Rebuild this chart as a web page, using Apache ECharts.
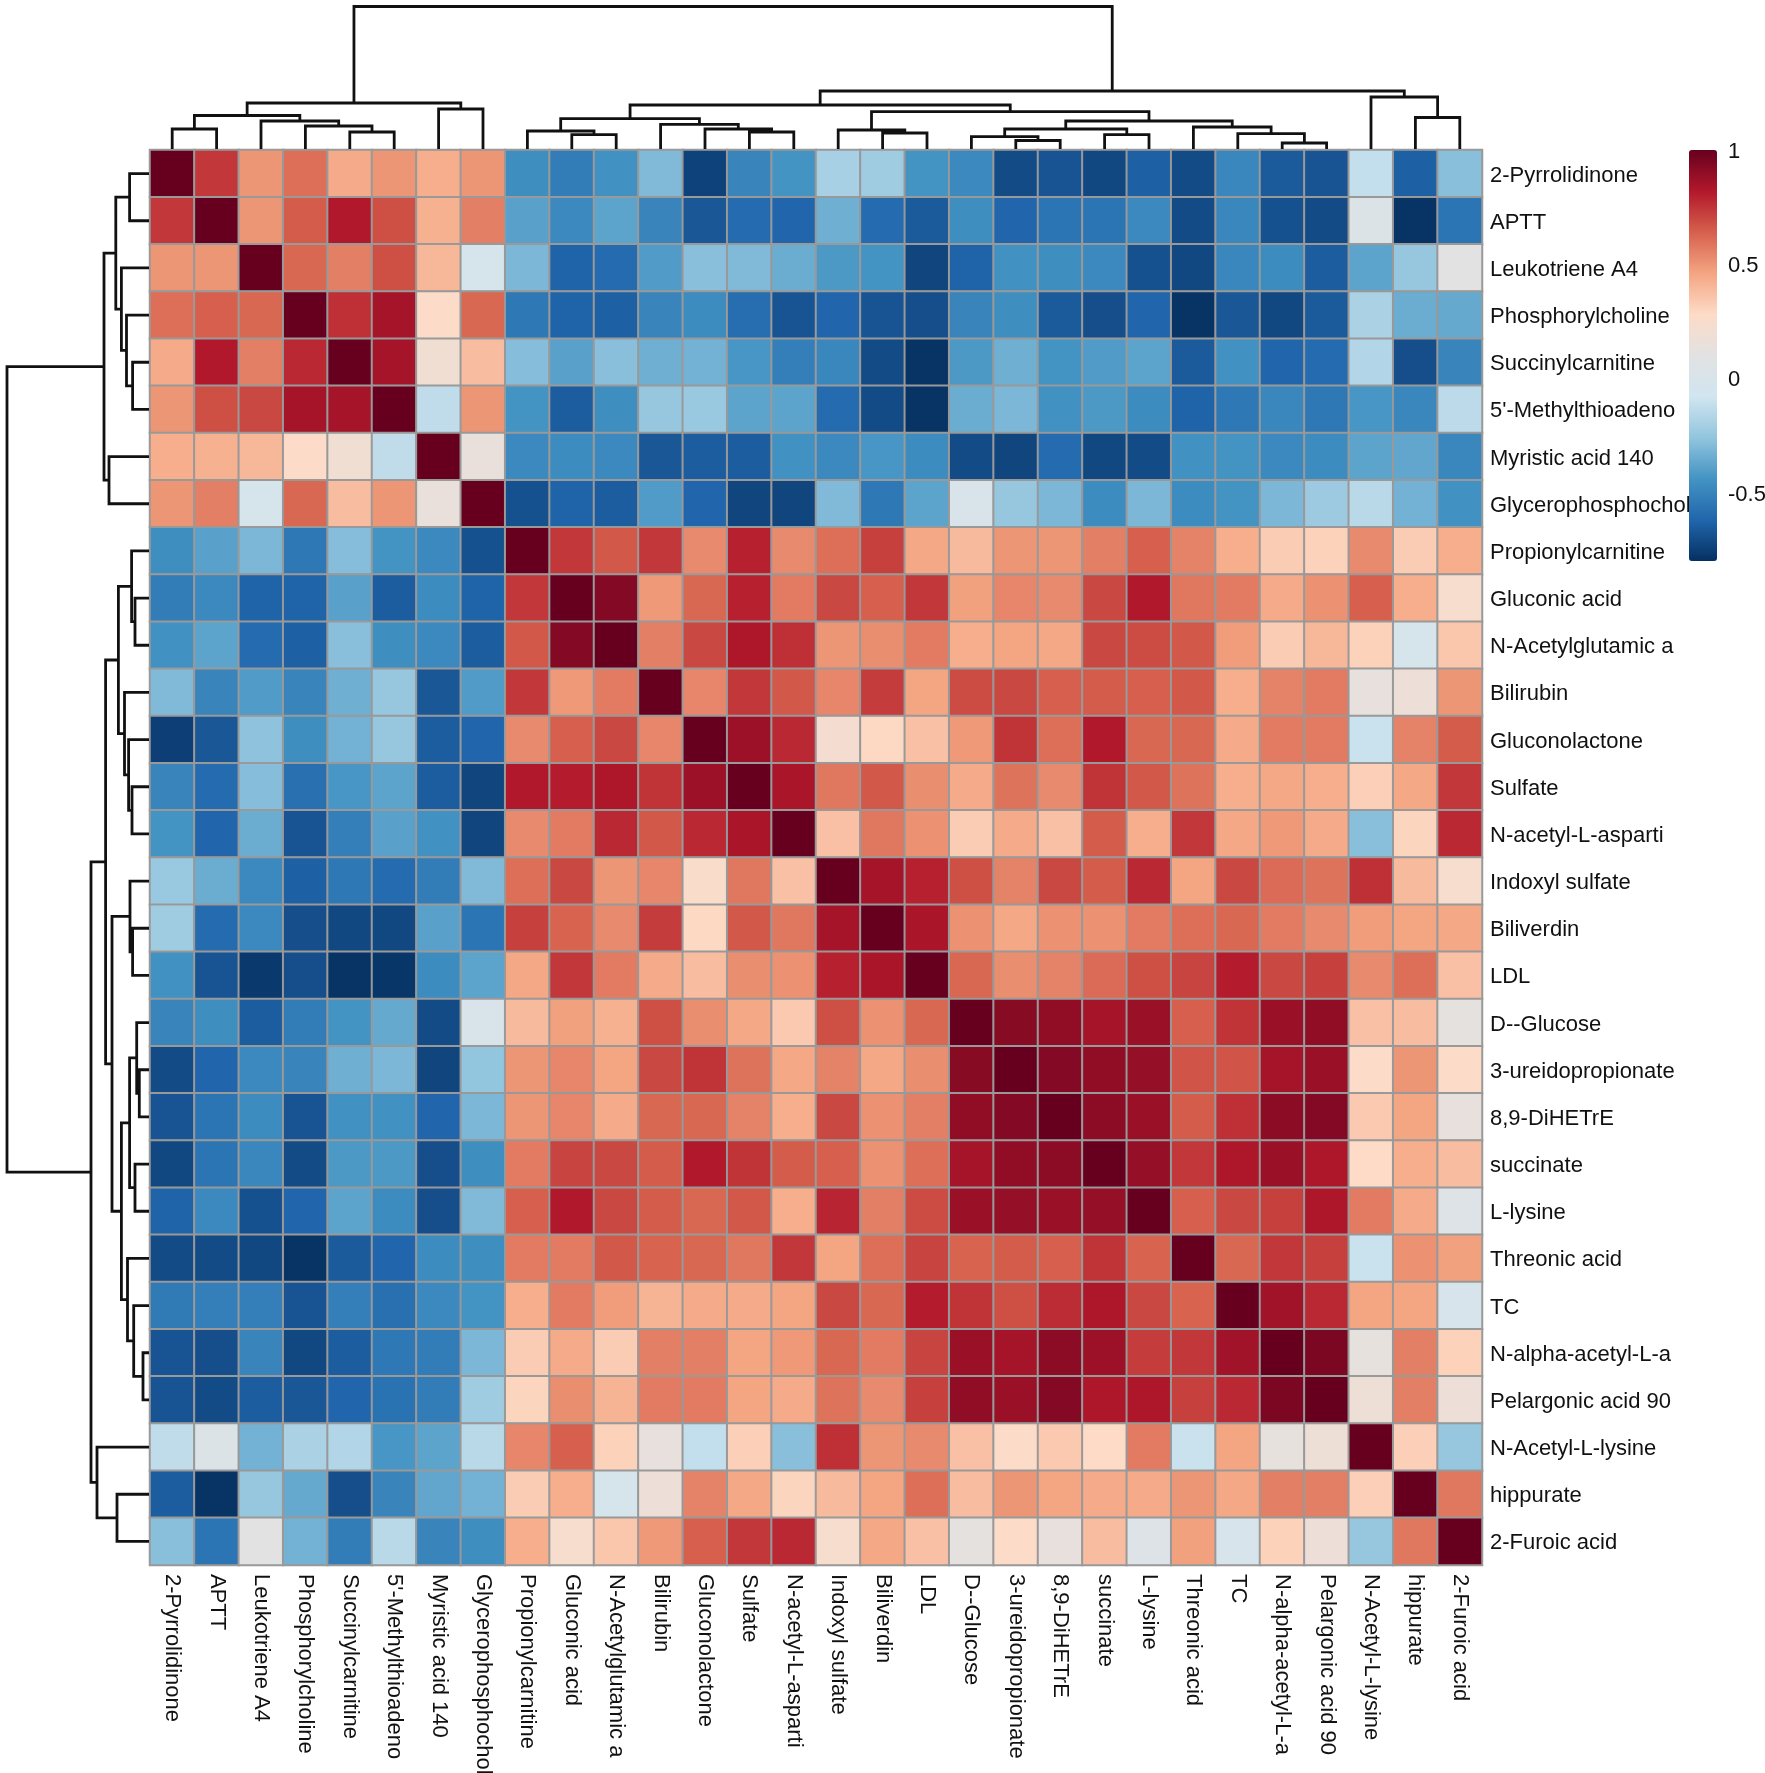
<!DOCTYPE html>
<html>
<head>
<meta charset="utf-8">
<title>Metabolite correlation heatmap</title>
<script src="https://cdn.jsdelivr.net/npm/echarts@6/dist/echarts.min.js"></script>
<style>
  html, body { margin: 0; padding: 0; background: #fff; }
  #main { width: 1765px; height: 1773px; }
</style>
</head>
<body>
<div id="main"></div>
<script>
// row and column order is the same, as it comes out of the clustering
const names = ['2-Pyrrolidinone', 'APTT', 'Leukotriene A4', 'Phosphorylcholine', 'Succinylcarnitine',
  "5'-Methylthioadeno", 'Myristic acid 140', 'Glycerophosphochol', 'Propionylcarnitine', 'Gluconic acid',
  'N-Acetylglutamic a', 'Bilirubin', 'Gluconolactone', 'Sulfate', 'N-acetyl-L-asparti',
  'Indoxyl sulfate', 'Biliverdin', 'LDL', 'D--Glucose', '3-ureidopropionate',
  '8,9-DiHETrE', 'succinate', 'L-lysine', 'Threonic acid', 'TC',
  'N-alpha-acetyl-L-a', 'Pelargonic acid 90', 'N-Acetyl-L-lysine', 'hippurate', '2-Furoic acid'];

// correlation values, top row first
const corr = [
  [1,.74,.5,.6,.44,.5,.43,.5,-.46,-.53,-.45,-.3,-.74,-.5,-.44,-.2,-.22,-.44,-.48,-.71,-.68,-.72,-.64,-.71,-.49,-.66,-.68,-.12,-.64,-.28],
  [.74,1,.5,.65,.82,.68,.42,.56,-.39,-.48,-.38,-.5,-.67,-.6,-.62,-.34,-.6,-.66,-.46,-.62,-.56,-.56,-.48,-.71,-.49,-.69,-.71,.03,-.79,-.56],
  [.5,.5,1,.62,.56,.68,.4,-.03,-.31,-.63,-.6,-.41,-.28,-.3,-.35,-.42,-.44,-.73,-.63,-.45,-.46,-.48,-.69,-.72,-.49,-.47,-.65,-.38,-.25,.1],
  [.6,.64,.62,1,.76,.85,.27,.62,-.55,-.63,-.64,-.5,-.47,-.59,-.68,-.62,-.68,-.7,-.5,-.46,-.66,-.7,-.62,-.79,-.67,-.72,-.66,-.19,-.35,-.36],
  [.44,.82,.56,.78,1,.85,.2,.38,-.29,-.39,-.28,-.34,-.33,-.43,-.52,-.49,-.71,-.79,-.42,-.34,-.44,-.41,-.38,-.66,-.45,-.62,-.6,-.17,-.7,-.5],
  [.5,.68,.7,.85,.85,1,-.13,.5,-.44,-.65,-.46,-.25,-.24,-.38,-.38,-.6,-.71,-.79,-.35,-.31,-.45,-.42,-.47,-.63,-.55,-.49,-.55,-.43,-.49,-.14],
  [.43,.42,.4,.27,.2,-.13,1,.15,-.48,-.47,-.48,-.67,-.65,-.65,-.45,-.48,-.43,-.47,-.71,-.73,-.6,-.72,-.71,-.45,-.44,-.48,-.47,-.38,-.37,-.49],
  [.5,.56,-.03,.62,.38,.5,.15,1,-.69,-.63,-.65,-.41,-.62,-.73,-.73,-.3,-.55,-.38,0,-.25,-.31,-.47,-.31,-.47,-.44,-.31,-.23,-.15,-.33,-.45],
  [-.46,-.39,-.31,-.55,-.29,-.44,-.48,-.69,1,.74,.66,.74,.53,.8,.53,.6,.72,.45,.39,.5,.5,.56,.64,.55,.43,.33,.31,.53,.33,.43],
  [-.53,-.48,-.63,-.63,-.39,-.65,-.47,-.63,.74,1,.93,.49,.62,.8,.57,.7,.64,.74,.47,.54,.53,.7,.82,.58,.57,.44,.51,.64,.43,.24],
  [-.45,-.38,-.6,-.64,-.28,-.46,-.48,-.65,.66,.93,1,.56,.7,.83,.76,.5,.52,.57,.43,.46,.45,.7,.69,.66,.48,.33,.4,.31,-.03,.35],
  [-.3,-.5,-.41,-.5,-.34,-.25,-.67,-.41,.74,.49,.57,1,.54,.74,.66,.54,.73,.46,.69,.7,.64,.65,.64,.66,.43,.55,.57,.14,.17,.5],
  [-.75,-.67,-.27,-.46,-.33,-.25,-.65,-.62,.53,.64,.7,.54,1,.87,.78,.22,.29,.37,.49,.75,.6,.82,.62,.62,.44,.57,.57,-.1,.55,.65],
  [-.5,-.6,-.29,-.58,-.43,-.38,-.65,-.73,.82,.81,.83,.75,.87,1,.84,.58,.66,.52,.44,.59,.53,.75,.66,.59,.43,.45,.43,.32,.45,.74],
  [-.44,-.62,-.35,-.68,-.52,-.39,-.45,-.73,.53,.57,.78,.66,.78,.84,1,.37,.58,.51,.33,.44,.37,.65,.43,.74,.45,.49,.44,-.28,.3,.78],
  [-.24,-.35,-.48,-.64,-.55,-.6,-.53,-.3,.6,.7,.5,.54,.26,.58,.37,1,.85,.8,.68,.55,.7,.65,.78,.46,.7,.61,.59,.76,.39,.24],
  [-.22,-.6,-.48,-.7,-.72,-.72,-.39,-.56,.72,.63,.53,.73,.29,.66,.58,.85,1,.84,.51,.45,.51,.51,.57,.6,.62,.57,.53,.48,.46,.45],
  [-.45,-.68,-.77,-.7,-.79,-.78,-.47,-.38,.45,.74,.57,.44,.38,.52,.51,.8,.84,1,.62,.52,.55,.61,.68,.71,.81,.7,.72,.53,.6,.37],
  [-.5,-.46,-.65,-.53,-.44,-.36,-.71,0,.39,.47,.42,.68,.52,.45,.34,.68,.51,.62,1,.92,.9,.85,.88,.64,.75,.88,.9,.37,.38,.12],
  [-.71,-.62,-.48,-.5,-.34,-.31,-.73,-.26,.5,.54,.46,.7,.75,.59,.45,.55,.45,.52,.92,1,.93,.9,.89,.67,.67,.85,.88,.27,.5,.27],
  [-.68,-.56,-.47,-.68,-.45,-.45,-.62,-.31,.5,.54,.44,.62,.62,.55,.43,.7,.51,.56,.9,.93,1,.91,.88,.65,.76,.91,.93,.34,.46,.14],
  [-.72,-.56,-.49,-.71,-.42,-.42,-.7,-.46,.57,.71,.7,.65,.82,.75,.65,.64,.51,.6,.85,.9,.91,1,.89,.74,.83,.88,.83,.28,.43,.38],
  [-.63,-.48,-.69,-.62,-.38,-.47,-.7,-.3,.64,.82,.7,.65,.62,.66,.43,.79,.56,.69,.88,.89,.88,.89,1,.64,.7,.72,.83,.57,.44,.05],
  [-.71,-.71,-.72,-.79,-.66,-.62,-.47,-.46,.57,.57,.66,.63,.62,.58,.74,.46,.6,.71,.63,.65,.64,.75,.63,1,.62,.74,.72,-.1,.51,.47],
  [-.54,-.52,-.52,-.68,-.52,-.58,-.48,-.44,.43,.57,.48,.41,.44,.44,.46,.7,.62,.81,.75,.68,.77,.83,.7,.63,1,.86,.78,.46,.46,-.02],
  [-.68,-.7,-.5,-.72,-.65,-.55,-.53,-.31,.33,.44,.33,.56,.56,.46,.49,.62,.57,.71,.88,.85,.91,.87,.73,.74,.86,1,.95,.13,.56,.31],
  [-.68,-.71,-.65,-.67,-.62,-.57,-.53,-.22,.3,.52,.41,.57,.57,.46,.44,.59,.53,.72,.9,.88,.93,.83,.83,.72,.78,.95,1,.18,.56,.17],
  [-.13,.03,-.33,-.19,-.17,-.43,-.38,-.15,.54,.64,.31,.14,-.12,.32,-.28,.76,.5,.53,.37,.27,.34,.28,.57,-.1,.46,.13,.18,1,.32,-.25],
  [-.65,-.79,-.25,-.36,-.7,-.5,-.37,-.33,.33,.43,-.03,.17,.55,.45,.3,.39,.46,.6,.38,.5,.46,.44,.44,.5,.45,.56,.56,.32,1,.58],
  [-.28,-.56,.1,-.33,-.53,-.15,-.5,-.46,.43,.24,.35,.49,.64,.74,.78,.24,.45,.37,.12,.27,.14,.38,.05,.47,-.02,.31,.17,-.25,.58,1]
];

// hclust style merges: [a, b, height], a/b >= 0 is a leaf, a/b < 0 is merge number -a-1
const colMerges = [
  [0, 1, 20], [4, 5, 17], [3, -2, 23], [2, -3, 28], [-1, -4, 33.5], [6, 7, 40], [-5, -6, 46],
  [9, 10, 14.3], [8, -8, 18], [13, 14, 17], [12, -10, 20], [11, -11, 24.6], [-9, -12, 30.4],
  [16, 17, 16], [15, -14, 19], [19, 20, 8.5], [18, -16, 12.4], [21, 22, 14.3], [-17, -18, 20],
  [25, 26, 6], [24, -20, 15.4], [23, -21, 22], [-19, -22, 28], [-15, -23, 37.3], [-13, -24, 44],
  [28, 29, 31.5], [27, -26, 52], [-25, -27, 58], [-7, -28, 142.5]
];
const rowMerges = [
  [0, 1, 19.4], [4, 5, 16.4], [3, -2, 22.5], [2, -3, 27.6], [-1, -4, 33.2], [6, 7, 40], [-5, -6, 45],
  [9, 10, 14], [8, -8, 17.4], [13, 14, 17], [12, -10, 20.4], [11, -11, 24.5], [-9, -12, 30.6],
  [16, 17, 16.4], [15, -14, 19], [19, 20, 9.7], [18, -16, 12.3], [21, 22, 14], [-17, -18, 19.4],
  [25, 26, 6], [24, -20, 15.3], [23, -21, 21.5], [-19, -22, 27.6], [-15, -23, 37], [-13, -24, 43.4],
  [28, 29, 32], [27, -26, 52], [-25, -27, 58], [-7, -28, 142]
];

const barTicks = [-0.5, 0, 0.5, 1];
const palette = ['#053061', '#2166AC', '#4393C3', '#92C5DE', '#D1E5F0', '#E2E2E2',
  '#FDDBC7', '#F4A582', '#D6604D', '#B2182B', '#67001F'];

let cells = [];
corr.forEach((row, r) => row.forEach((v, c) => cells.push([c, r, v])));

// turns merges into U shaped paths, NaN points break the line between them
function treePath(merges, flip) {
  let nodes = [];
  let path = [];
  const get = id => id >= 0 ? {pos: id + 0.5, h: 0} : nodes[-id - 1];
  const pt = (pos, h) => flip ? [h, pos] : [pos, h];
  merges.forEach(m => {
    const a = get(m[0]);
    const b = get(m[1]);
    path.push(pt(a.pos, a.h), pt(a.pos, m[2]), pt(b.pos, m[2]), pt(b.pos, b.h), [NaN, NaN]);
    nodes.push({pos: (a.pos + b.pos) / 2, h: m[2]});
  });
  return path;
}

const font = 'Liberation Sans';
const hidden = {show: false};
const treeLine = {
  type: 'line', showSymbol: false, clip: false, silent: true, connectNulls: false,
  lineStyle: {color: '#111', width: 2.8, join: 'miter'}
};
// labels sit a little under the cell centre in the original
const lowered = {padding: [4, 0, 0, 0], fontSize: 22, fontFamily: font, color: '#111'};

let chart = echarts.init(document.getElementById('main'));
chart.setOption({
  animation: false,
  backgroundColor: '#fff',
  grid: [
    // the bottom labels run off the page on purpose, so no shrinking for them
    {left: 150, top: 150, width: 1332, height: 1415, outerBoundsMode: 'none'},
    {left: 150, top: 6, width: 1332, height: 143, outerBoundsMode: 'none'},
    {left: 6, top: 150, width: 143, height: 1415, outerBoundsMode: 'none'},
    {left: 1689, top: 150, width: 28, height: 411, outerBoundsMode: 'none'}
  ],
  xAxis: [
    {
      type: 'category', gridIndex: 0, data: names, position: 'bottom',
      axisLine: hidden, axisTick: hidden, splitLine: hidden,
      axisLabel: {rotate: -90, interval: 0, margin: 9, fontSize: 22, fontFamily: font, color: '#111'}
    },
    {type: 'value', gridIndex: 1, min: 0, max: 30, show: false},
    {type: 'value', gridIndex: 2, min: 0, max: 143, inverse: true, show: false},
    {type: 'value', gridIndex: 3, min: 0, max: 1, show: false}
  ],
  yAxis: [
    {
      type: 'category', gridIndex: 0, data: names, inverse: true, position: 'right',
      axisLine: hidden, axisTick: hidden, splitLine: hidden,
      axisLabel: {interval: 0, margin: 8, formatter: '{a|{value}}', rich: {a: lowered}}
    },
    {type: 'value', gridIndex: 1, min: 0, max: 143, show: false},
    {type: 'value', gridIndex: 2, min: 0, max: 30, inverse: true, show: false},
    {
      type: 'value', gridIndex: 3, min: -0.8, max: 1, position: 'right',
      axisLine: hidden, axisTick: hidden, splitLine: hidden,
      axisLabel: {customValues: barTicks, margin: 11, formatter: '{a|{value}}', rich: {a: lowered}}
    }
  ],
  visualMap: {
    type: 'continuous', seriesIndex: 0, min: -0.8, max: 1,
    left: 1689, top: 150, itemWidth: 28, itemHeight: 411, padding: 0,
    calculable: false, hoverLink: false, showLabel: false,
    inRange: {color: palette}
  },
  series: [
    {
      type: 'heatmap', xAxisIndex: 0, yAxisIndex: 0, data: cells, silent: true,
      itemStyle: {borderColor: '#999', borderWidth: 2}
    },
    Object.assign({}, treeLine, {xAxisIndex: 1, yAxisIndex: 1, data: treePath(colMerges, false)}),
    Object.assign({}, treeLine, {xAxisIndex: 2, yAxisIndex: 2, data: treePath(rowMerges, true)})
  ]
});
</script>
</body>
</html>
